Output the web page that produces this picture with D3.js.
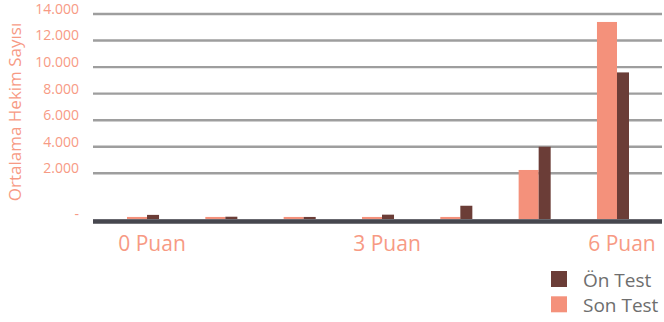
<!DOCTYPE html>
<html>
<head>
<meta charset="utf-8">
<script src="https://cdn.jsdelivr.net/npm/d3@7"></script>
<style>
  html, body { margin: 0; padding: 0; background: #fff; }
  svg { display: block; font-family: "Open Sans", sans-serif; }
</style>
</head>
<body>
<svg id="chart" width="664" height="322"></svg>
<script>
// Score categories (0–6 puan)
const categories = ["0 Puan", "1 Puan", "2 Puan", "3 Puan", "4 Puan", "5 Puan", "6 Puan"];
// Only every third category is labelled on the axis
const shownLabels = ["0 Puan", "3 Puan", "6 Puan"];
// Average number of physicians per score
const onTest  = [180, 100, 90, 190, 580, 4000, 9600];
const sonTest = [90, 90, 90, 90, 90, 2250, 13400];
const seriesNames = ["Ön Test", "Son Test"];
// Value-axis ticks
const yTicks = [0, 2000, 4000, 6000, 8000, 10000, 12000, 14000];

const colors = { "Ön Test": "#6b3d37", "Son Test": "#f4917b" };
const labelColor = "#f79a84";

const svg = d3.select("#chart");

const plotLeft = 93, plotRight = 662;

// Value scale: the lowest band (0–2.000) is stretched relative to the rest
const y = d3.scaleLinear()
  .domain([0, 2000, 14000])
  .range([219, 173.3, 14]);

const x = d3.scaleBand()
  .domain(categories)
  .range([127, 629])
  .paddingInner(0.591)
  .paddingOuter(0);

const bw = x.bandwidth();
const sonW = bw * 0.625;
const onW = bw - sonW;

// Gridlines
svg.append("g")
  .selectAll("line")
  .data(yTicks.filter(d => d > 0))
  .join("line")
  .attr("x1", plotLeft).attr("x2", plotRight)
  .attr("y1", d => y(d)).attr("y2", d => y(d))
  .attr("stroke", "#9e9e9e")
  .attr("stroke-width", 2.4);

// Tick labels
const fmt = d => d === 0 ? "-" : d3.format(",")(d).replace(/,/g, ".");
svg.append("g")
  .selectAll("text")
  .data(yTicks)
  .join("text")
  .attr("x", 79)
  .attr("y", d => y(d) - 5)
  .attr("dy", "0.35em")
  .attr("text-anchor", "end")
  .attr("fill", labelColor)
  .attr("font-size", 14)
  .text(fmt);

// Axis title
svg.append("text")
  .attr("transform", "translate(21,112) rotate(-90)")
  .attr("text-anchor", "middle")
  .attr("fill", labelColor)
  .attr("font-size", 17)
  .text("Ortalama Hekim Sayısı");

// Bars: Son Test (left, wider) and Ön Test (right, narrower)
const groups = svg.append("g")
  .selectAll("g")
  .data(categories)
  .join("g")
  .attr("transform", d => `translate(${x(d)},0)`);

groups.append("rect")
  .attr("x", 0)
  .attr("width", sonW)
  .attr("y", (d, i) => y(sonTest[i]))
  .attr("height", (d, i) => y(0) - y(sonTest[i]))
  .attr("fill", colors["Son Test"]);

groups.append("rect")
  .attr("x", sonW)
  .attr("width", onW)
  .attr("y", (d, i) => y(onTest[i]))
  .attr("height", (d, i) => y(0) - y(onTest[i]))
  .attr("fill", colors["Ön Test"]);

// Baseline
svg.append("line")
  .attr("x1", plotLeft).attr("x2", plotRight)
  .attr("y1", y(0) + 0.5).attr("y2", y(0) + 0.5)
  .attr("stroke", "#8a8a90").attr("stroke-width", 1);
svg.append("line")
  .attr("x1", plotLeft).attr("x2", plotRight)
  .attr("y1", y(0) + 2.6).attr("y2", y(0) + 2.6)
  .attr("stroke", "#46474e").attr("stroke-width", 4.2);

// Category labels
svg.append("g")
  .selectAll("text")
  .data(shownLabels)
  .join("text")
  .attr("x", d => x(d) + bw / 2 + 9)
  .attr("y", 251)
  .attr("text-anchor", "middle")
  .attr("fill", labelColor)
  .attr("font-size", 21)
  .text(d => d);

// Legend
const legend = svg.append("g")
  .selectAll("g")
  .data(seriesNames)
  .join("g")
  .attr("transform", (d, i) => `translate(551,${271 + i * 25.3})`);

legend.append("rect")
  .attr("width", 16).attr("height", 16)
  .attr("fill", d => colors[d]);

legend.append("text")
  .attr("x", 32)
  .attr("y", 15.5)
  .attr("fill", "#6e6e6e")
  .attr("font-size", 19)
  .text(d => d);
</script>
</body>
</html>
